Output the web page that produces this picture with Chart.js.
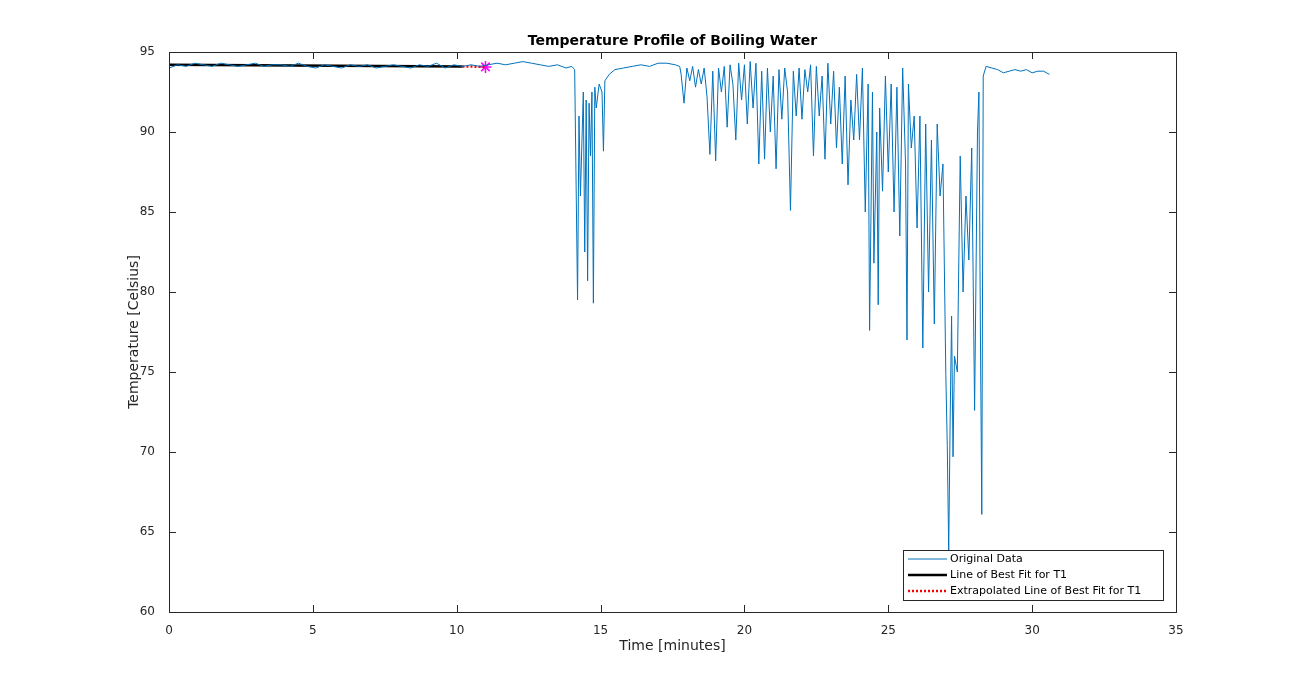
<!DOCTYPE html>
<html><head><meta charset="utf-8">
<script src="https://cdn.jsdelivr.net/npm/chart.js@4"></script>
<style>html,body{margin:0;padding:0;background:#fff}#w{width:1301px;height:689px}</style>
</head><body><div id="w"><canvas id="c"></canvas></div>
<script>
const times = [0,0.3,0.6,0.9,1.2,1.5,1.8,2.1,2.4,2.7,3.0,3.3,3.6,3.9,4.2,4.5,4.8,5.1,5.4,5.7,6.0,6.3,6.6,6.9,7.2,7.5,7.8,8.1,8.4,8.7,9.0,9.3,9.6,9.9,10.2,10.5,10.8,11.1,11.4,11.7,12.0,12.3,12.6,12.9,13.2,13.5,13.8,14.0,
14.1,14.2,14.25,14.3,14.4,14.45,14.5,14.55,14.6,14.65,14.7,14.75,14.8,14.85,14.95,15.05,15.1,15.15,15.3,15.5,15.8,16.1,16.4,16.7,17.0,17.3,17.6,17.75,
17.8,17.9,18.0,18.1,18.2,18.3,18.4,18.5,18.6,18.7,18.8,18.9,19.0,19.1,19.2,19.3,19.4,19.5,19.6,19.7,19.8,19.9,20.0,20.1,20.2,20.3,20.4,20.5,20.6,20.7,20.8,20.9,21.0,21.1,21.2,21.3,21.4,21.5,21.6,21.7,21.8,21.9,22.0,22.1,22.2,22.3,22.4,22.5,22.6,22.7,22.8,22.9,23.0,23.1,23.2,23.3,23.4,23.5,23.6,23.7,23.8,23.9,24.0,24.1,24.2,24.3,24.35,24.45,24.5,24.6,24.65,24.7,24.8,24.9,25.0,25.1,25.2,25.3,25.4,25.5,25.6,25.65,25.7,25.8,25.9,26.0,26.1,26.2,26.3,26.4,26.5,26.6,26.7,26.8,26.9,27.0,27.05,27.1,27.15,27.2,27.25,27.3,27.4,27.5,27.6,27.7,27.8,27.9,28.0,28.1,28.15,28.2,28.25,28.3,28.4,28.6,28.8,29.0,29.2,29.4,29.6,29.8,30.0,30.2,30.4,30.6];
const temps = [94.0,94.2,94.1,94.3,94.2,94.1,94.3,94.2,94.1,94.2,94.3,94.1,94.2,94.2,94.1,94.3,94.1,94.0,94.2,94.1,94.0,94.2,94.1,94.2,94.0,94.1,94.2,94.1,94.0,94.2,94.1,94.3,94.0,94.2,94.1,94.2,94.1,94.2,94.3,94.2,94.3,94.4,94.3,94.2,94.1,94.2,94.0,94.1,
93.9,79.5,91.0,86.0,92.5,82.5,92.0,80.7,91.8,88.5,92.5,79.3,92.8,91.5,93.0,92.5,88.8,93.2,93.6,93.9,94.0,94.1,94.2,94.1,94.3,94.3,94.2,94.1,
93.6,91.8,94.0,93.2,94.1,92.8,93.9,93.0,94.0,92.2,88.6,93.8,88.2,94.0,92.5,94.1,90.3,94.2,93.0,89.5,94.3,92.0,94.2,90.5,94.4,91.5,94.3,88.0,93.8,88.3,94.0,90.0,93.5,87.7,93.9,90.8,94.0,92.5,85.1,93.8,91.0,94.0,90.8,93.9,92.5,94.2,88.5,94.1,91.0,93.5,88.3,94.3,90.5,93.8,89.0,92.8,88.0,93.5,86.7,92.0,89.5,93.6,89.5,94.0,85.0,93.0,77.6,92.5,81.8,90.0,79.2,91.5,86.3,93.5,87.5,93.0,85.0,92.8,83.5,94.0,88.0,77.0,93.0,89.0,91.0,84.0,91.0,76.5,90.5,80.0,89.5,78.0,90.5,86.0,88.0,74.8,70.4,63.8,72.0,78.5,69.7,76.0,75.0,88.5,80.0,86.0,82.0,89.0,72.6,90.0,92.5,78.0,66.1,93.5,94.1,94.0,93.9,93.7,93.8,93.9,93.8,93.9,93.7,93.8,93.8,93.6];
const fitTimes = [0,10.2];
const fitTemps = [94.2,94.1];
const extTimes = [10.2,11.0];
const extTemps = [94.1,94.07];
const markTime = [11.0];
const markTemp = [94.07];
const xTicks = [0,5,10,15,20,25,30,35];
const yTicks = [60,65,70,75,80,85,90,95];
const legendLabels = ['Original Data','Line of Best Fit for T1','Extrapolated Line of Best Fit for T1'];

const pts=(a,b)=>a.map((t,i)=>({x:t,y:b[i]}));
const F='"DejaVu Sans", sans-serif';
const frame={id:'frame',afterDraw(ch){
  const c=ch.ctx,a=ch.chartArea,xs=ch.scales.x,ys=ch.scales.y;
  c.save();c.strokeStyle='#262626';c.lineWidth=1;
  c.strokeRect(a.left+0.5,a.top+0.5,a.right-a.left,a.bottom-a.top);
  c.beginPath();
  xTicks.forEach(v=>{const p=Math.round(xs.getPixelForValue(v))+0.5;c.moveTo(p,a.bottom);c.lineTo(p,a.bottom-7);c.moveTo(p,a.top);c.lineTo(p,a.top+7);});
  yTicks.forEach(v=>{const p=Math.round(ys.getPixelForValue(v))+0.5;c.moveTo(a.left,p);c.lineTo(a.left+7,p);c.moveTo(a.right,p);c.lineTo(a.right-7,p);});
  c.stroke();
  c.fillStyle='#000';c.font='bold 14px '+F;c.textAlign='center';c.textBaseline='alphabetic';
  c.fillText('Temperature Profile of Boiling Water',(a.left+a.right)/2,45);
  c.fillStyle='#262626';c.font='14px '+F;c.textBaseline='middle';
  c.fillText('Time [minutes]',(a.left+a.right)/2,646);
  c.save();c.translate(134,(a.top+a.bottom)/2);c.rotate(-Math.PI/2);c.fillText('Temperature [Celsius]',0,0);c.restore();
  // legend
  const lx=903,ly=550,lw=260,lh=50;
  c.fillStyle='#fff';c.fillRect(lx,ly,lw,lh);c.strokeStyle='#262626';c.strokeRect(lx+0.5,ly+0.5,lw,lh);
  const st=[['#0072BD',1,[]],['#000',2.5,[]],['#ff0000',2.5,[2,2]]];
  c.font='11px '+F;c.textAlign='left';c.textBaseline='middle';
  legendLabels.forEach((l,i)=>{const y=ly+9+i*16;c.strokeStyle=st[i][0];c.lineWidth=st[i][1];c.setLineDash(st[i][2]);
    c.beginPath();c.moveTo(lx+5,y);c.lineTo(lx+44,y);c.stroke();c.setLineDash([]);c.fillStyle='#000';c.fillText(l,lx+47,y);});
  c.restore();
}};
new Chart(document.getElementById('c'),{type:'scatter',
 data:{datasets:[
  {data:pts(times,temps),showLine:true,borderColor:'#0072BD',borderWidth:1,pointRadius:0,tension:0},
  {data:pts(fitTimes,fitTemps),showLine:true,borderColor:'#000',borderWidth:2.5,pointRadius:0},
  {data:pts(extTimes,extTemps),showLine:true,borderColor:'#ff0000',borderWidth:2.5,borderDash:[2,2],pointRadius:0},
  {data:pts(markTime,markTemp),pointStyle:'star',pointRadius:6,borderColor:'#ff00ff',borderWidth:1.5,backgroundColor:'#ff00ff'}
 ]},
 options:{responsive:true,maintainAspectRatio:false,animation:false,
  layout:{padding:{left:0,right:125,top:52,bottom:0}},
  plugins:{legend:{display:false},tooltip:{enabled:false}},
  scales:{
   x:{type:'linear',min:0,max:35,afterBuildTicks(s){s.ticks=xTicks.map(v=>({value:v}));},
      afterFit(s){s.height=77;},grid:{display:false},border:{display:false},
      ticks:{color:'#262626',font:{family:F,size:12},padding:4,maxRotation:0}},
   y:{min:60,max:95,afterBuildTicks(s){s.ticks=yTicks.map(v=>({value:v}));},
      afterFit(s){s.width=169;},grid:{display:false},border:{display:false},
      ticks:{color:'#262626',font:{family:F,size:12},padding:6}}
  }}
 ,plugins:[frame]});
</script></body></html>
